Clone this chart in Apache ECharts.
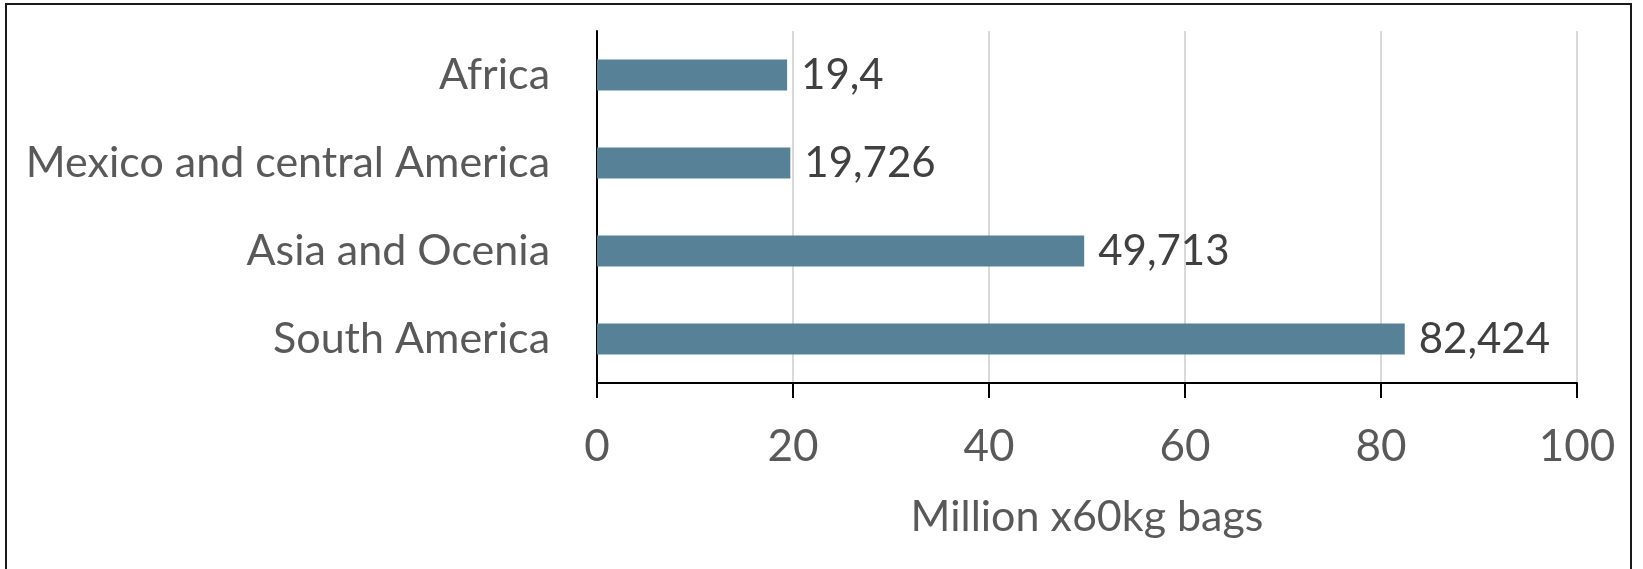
<!DOCTYPE html>
<html>
<head>
<meta charset="utf-8">
<script src="https://cdn.jsdelivr.net/npm/echarts@6/dist/echarts.min.js"></script>
<style>
html,body{margin:0;padding:0;background:#fff;}
#chart{width:1643px;height:569px;}
</style>
</head>
<body>
<div id="chart"></div>
<script>
const categories = ['Africa', 'Mexico and central America', 'Asia and Ocenia', 'South America'];
const values = [19.4, 19.726, 49.713, 82.424];
const xTicks = [0, 20, 40, 60, 80, 100];
const axisTitle = 'Million x60kg bags';

const chart = echarts.init(document.getElementById('chart'), null, {renderer: 'canvas'});
const FONT = 'Lato';
chart.setOption({
  animation: false,
  backgroundColor: '#fff',
  graphic: [{
    type: 'rect',
    shape: {x: 6, y: 4, width: 1625, height: 600},
    style: {fill: 'none', stroke: '#1a1a1a', lineWidth: 2},
    silent: true
  }],
  grid: {left: 597, right: 66, top: 31, bottom: 186, containLabel: false},
  xAxis: {
    type: 'value',
    min: xTicks[0],
    max: xTicks[xTicks.length - 1],
    interval: xTicks[1] - xTicks[0],
    name: axisTitle,
    nameLocation: 'middle',
    nameGap: 113,
    nameTextStyle: {fontFamily: FONT, fontSize: 43, color: '#595959'},
    axisLine: {show: true, lineStyle: {color: '#000', width: 2}},
    axisTick: {show: true, length: 15, lineStyle: {color: '#000', width: 2}},
    axisLabel: {fontFamily: FONT, fontSize: 44, color: '#595959', margin: 42},
    splitLine: {show: true, lineStyle: {color: '#d9d9d9', width: 2}}
  },
  yAxis: {
    type: 'category',
    data: categories,
    inverse: true,
    axisLine: {show: true, lineStyle: {color: '#000', width: 2}},
    axisTick: {show: false},
    axisLabel: {fontFamily: FONT, fontSize: 43, color: '#595959', margin: 47},
    splitLine: {show: false}
  },
  series: [{
    type: 'bar',
    data: values,
    barWidth: 31,
    itemStyle: {color: '#568196'},
    label: {
      show: true,
      position: 'right',
      distance: 14,
      fontFamily: FONT,
      fontSize: 42,
      color: '#404040',
      formatter: p => String(p.value).replace('.', ',')
    }
  }]
});
</script>
</body>
</html>
